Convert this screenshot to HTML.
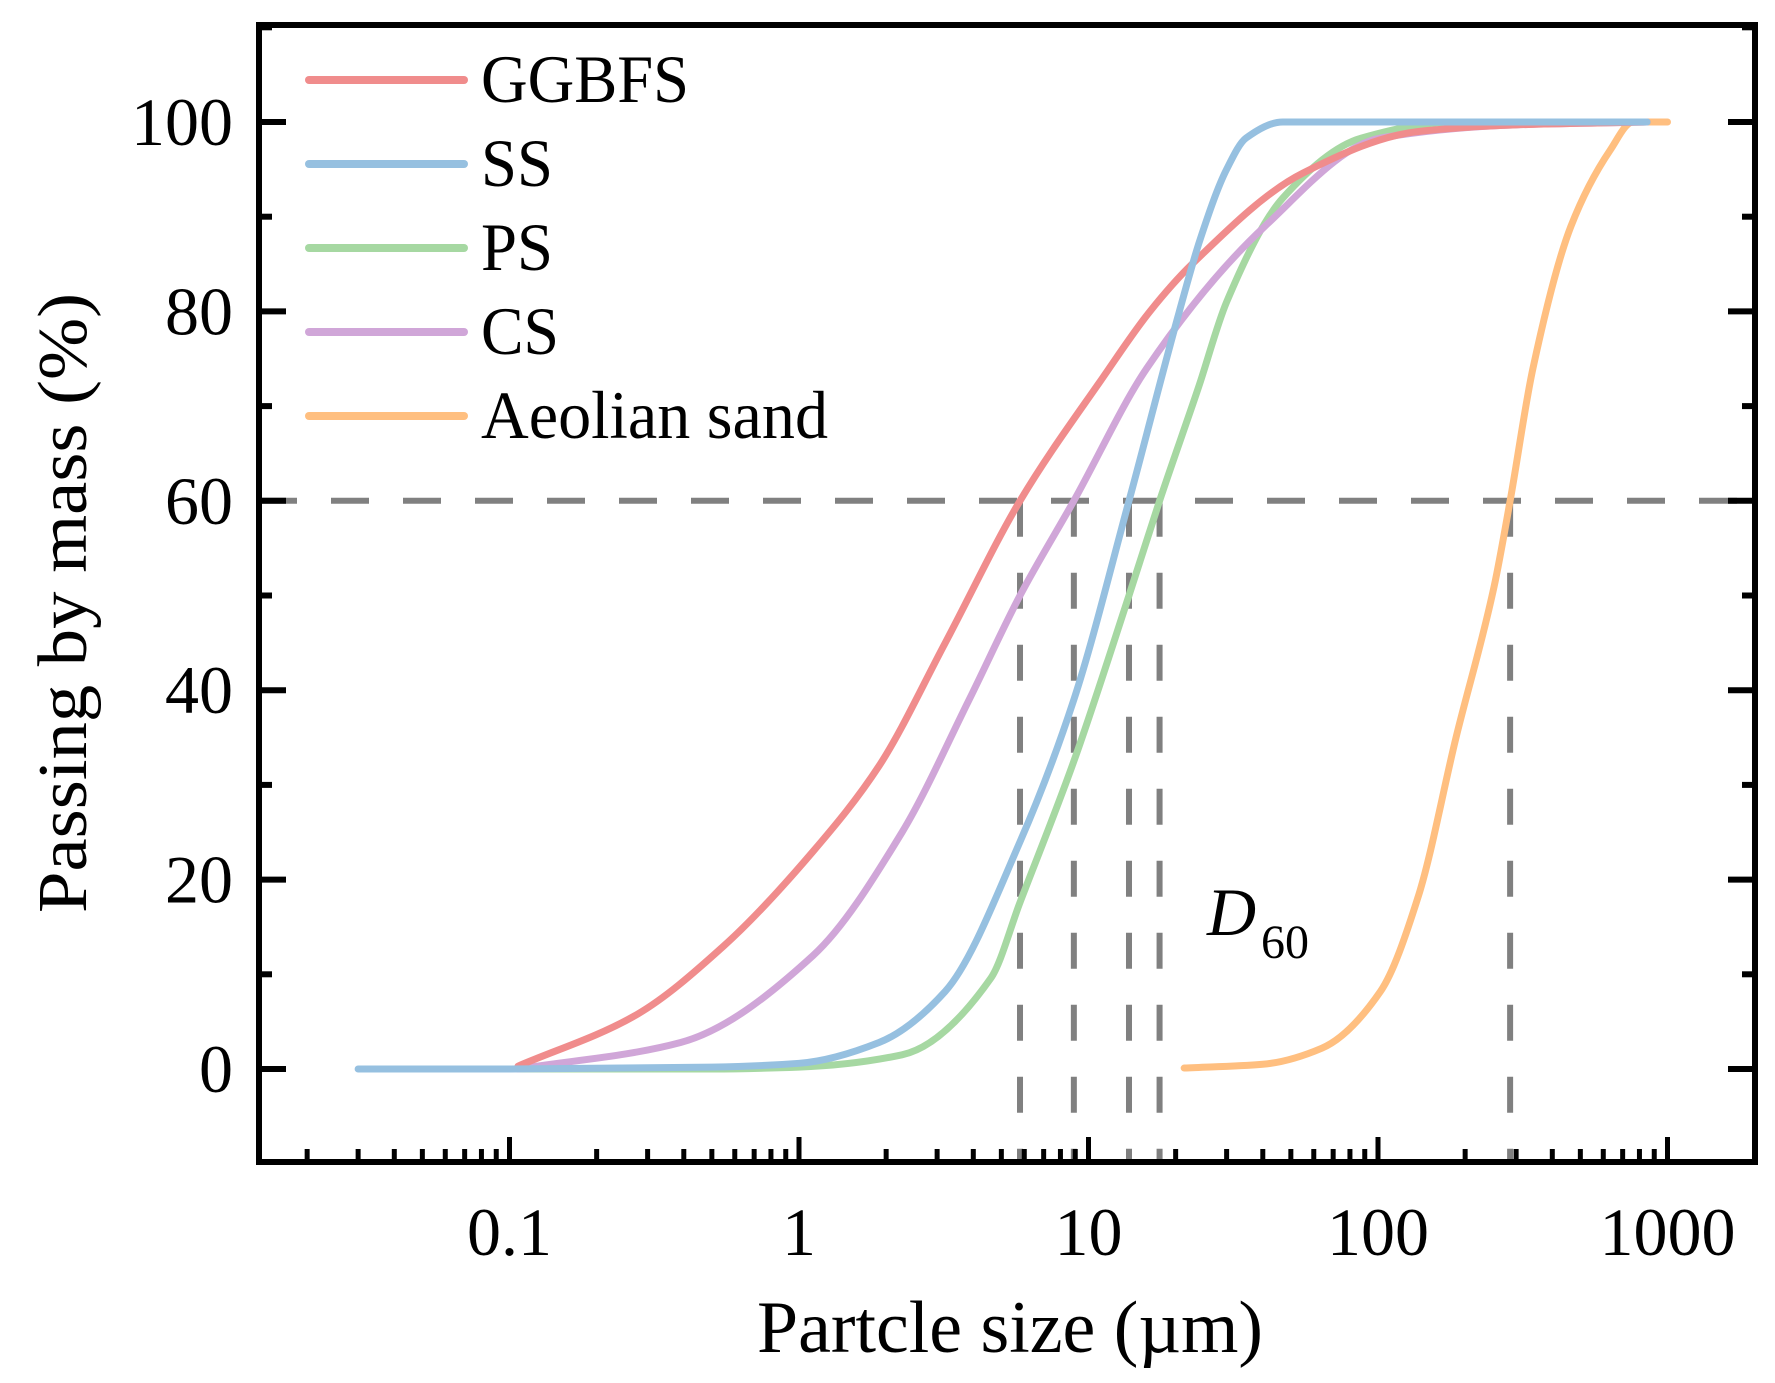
<!DOCTYPE html>
<html><head><meta charset="utf-8"><style>
html,body{margin:0;padding:0;background:#fff;}
svg{display:block;font-family:"Liberation Serif",serif;}
</style></head><body>
<svg id="chart" width="1775" height="1383" viewBox="0 0 1775 1383" xmlns="http://www.w3.org/2000/svg">
<g id="grid"></g><g id="series"></g><g id="axes"></g><g id="legend"></g>
<text x="0" y="0" transform="translate(86,603) rotate(-90)" text-anchor="middle" font-size="70" textLength="620" lengthAdjust="spacingAndGlyphs">Passing by mass (%)</text>
<text x="1010" y="1352" text-anchor="middle" font-size="74" textLength="506" lengthAdjust="spacingAndGlyphs">Partcle size (µm)</text>
<text x="1207" y="935" font-size="68" font-style="italic">D</text>
<text x="1261" y="958" font-size="48">60</text>
</svg>
<script>
const seriesNames = ["GGBFS","SS","PS","CS","Aeolian sand"];
const seriesColors = ["#f08c8c","#96c0e0","#a6d8a2","#d0a6d8","#ffbf80"];
const ggbfsX = [0.107,0.27,0.55,1.12,1.89,3.2,5.8,11.2,16.3,22.8,55,138,300,850];
const ggbfsY = [0.3,5.6,13,23,32,45,60,73,80,85,94.6,99,99.7,100];
const ssX = [0.03,0.1,0.5,1.0,1.89,3.2,5.8,8.9,13.8,20.6,24.3,30,35,47,100,850];
const ssY = [0,0,0.2,0.6,2.8,8.2,24,39,60,80,87.6,95,98.3,100,100,100];
const psX = [0.107,0.5,1.0,2.27,4.6,5.8,8.9,13.8,17.6,24,30,47,87.6,186,850];
const psY = [0,0,0.2,1.5,9.6,17.6,32.5,50,60,72,81,92,98.3,100,100];
const csX = [0.107,0.39,1.12,2.27,3.87,5.8,8.9,15.9,40.7,102,300,850];
const csY = [0,2.8,12,25,39,50,60,74,89,98.3,99.7,100];
const sandX = [21.4,40,64,102,138,186,252,286,343,464,633,760,1000];
const sandY = [0.1,0.5,2.2,8.2,18.3,35,51,60,74,89,97,100,100];
const d60Values = [5.8,8.9,13.8,17.6,286];
const yTicks = [0,20,40,60,80,100];
const yTickLabels = ["0","20","40","60","80","100"];
const xTicks = [0.1,1,10,100,1000];
const xTickLabels = ["0.1","1","10","100","1000"];

const L=259,R=1755,T=25,B=1162;
const xs = v => 799 + (Math.log10(v))*289.5;
const ys = v => 1069 - v*9.47;
const NS="http://www.w3.org/2000/svg";
function mk(tag,attrs,parent){const e=document.createElementNS(NS,tag);for(const k in attrs)e.setAttribute(k,attrs[k]);parent.appendChild(e);return e;}
const gGrid=document.getElementById('grid'),gSer=document.getElementById('series'),gAx=document.getElementById('axes'),gLeg=document.getElementById('legend');

let h=mk('line',{x1:L,x2:R,y1:ys(60),y2:ys(60),stroke:'#808080','stroke-width':6,'stroke-dasharray':'38 34'},gGrid);


d60Values.forEach(v=>{
  const l=mk('line',{x1:xs(v),x2:xs(v),y1:ys(60),y2:B,stroke:'#808080','stroke-width':6,'stroke-dasharray':'36 36'},gGrid);
  
  
});

// monotone cubic (Fritsch-Carlson) in pixel space
function pathFrom(X,Y){
  const px=X.map(xs), py=Y.map(ys), n=px.length;
  const d=[],m=new Array(n);
  for(let i=0;i<n-1;i++) d.push((py[i+1]-py[i])/(px[i+1]-px[i]));
  m[0]=d[0]; m[n-1]=d[n-2];
  for(let i=1;i<n-1;i++){
    if(d[i-1]*d[i]<=0) m[i]=0;
    else { const w1=2*(px[i+1]-px[i])+(px[i]-px[i-1]), w2=(px[i+1]-px[i])+2*(px[i]-px[i-1]);
      m[i]=(w1+w2)/(w1/d[i-1]+w2/d[i]); }
  }
  let s=`M${px[0]},${py[0]}`;
  for(let i=0;i<n-1;i++){
    const hh=(px[i+1]-px[i])/3;
    s+=` C${px[i]+hh},${py[i]+m[i]*hh} ${px[i+1]-hh},${py[i+1]-m[i+1]*hh} ${px[i+1]},${py[i+1]}`;
  }
  return s;
}
const allX=[ggbfsX,ssX,psX,csX,sandX],allY=[ggbfsY,ssY,psY,csY,sandY];
const order=[4,2,3,0,1];
order.forEach(i=>{
  const s=mk('path',{d:pathFrom(allX[i],allY[i]),fill:'none',stroke:seriesColors[i],'stroke-width':7,'stroke-linecap':'round','stroke-linejoin':'round'},gSer);
  
  
});

const fr=mk('rect',{x:L,y:T,width:R-L,height:B-T,fill:'none',stroke:'#000','stroke-width':6},gAx);


for(let v=-10;v<=110;v+=10){
  const major=v%20===0, len=major?27:13, y=ys(v);
  if(y<T+2||y>B-2)continue;
  [[L,L+len],[R,R-len]].forEach(([a,b])=>{
    const t=mk('line',{x1:a,x2:b,y1:y,y2:y,stroke:'#000','stroke-width':6},gAx);
    
    
  });
}
yTicks.forEach((v,i)=>{
  const t=mk('text',{x:233,y:ys(v)+23,'text-anchor':'end','font-size':68},gAx);
  t.textContent=yTickLabels[i];
  
  
});
for(let e=-2;e<=3;e++){
  for(let m=1;m<=9;m++){
    const v=m*Math.pow(10,e), x=xs(v);
    if(x<L+10||x>R-4)continue;
    const len=m===1?25:13;
    const t=mk('line',{x1:x,x2:x,y1:B,y2:B-len,stroke:'#000','stroke-width':5},gAx);
    
    
  }
}
xTicks.forEach((v,i)=>{
  const t=mk('text',{x:xs(v),y:1255,'text-anchor':'middle','font-size':68},gAx);
  t.textContent=xTickLabels[i];
  
  
});
const legW=[208,72,72,78,347];
seriesNames.forEach((n,i)=>{
  const y=80+i*84;
  const l=mk('line',{x1:309,x2:464,y1:y,y2:y,stroke:seriesColors[i],'stroke-width':8,'stroke-linecap':'round'},gLeg);
  
  
  const t=mk('text',{x:481,y:y+22,'font-size':68,textLength:legW[i],lengthAdjust:'spacingAndGlyphs'},gLeg);
  t.textContent=n;
  
  
});
</script>
</body></html>
